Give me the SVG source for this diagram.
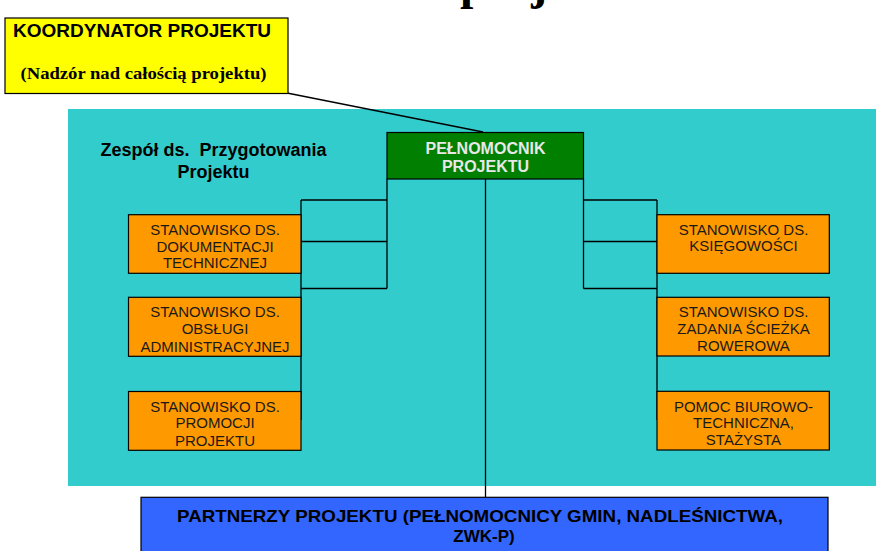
<svg xmlns="http://www.w3.org/2000/svg" width="876" height="551" viewBox="0 0 876 551">
<style>
.box{stroke:#000;stroke-width:1.2}
.orange{fill:#FF9900}
.ot{font-family:"Liberation Sans",Arial,sans-serif;font-size:15px;fill:#1a1a1a;text-anchor:middle}
.conn line{stroke:#000;stroke-width:1.3}
</style>
<rect x="0" y="0" width="876" height="551" fill="#fff"/>
<text x="460" y="-1" font-family="Liberation Serif,serif" font-weight="bold" font-size="48" fill="#000">projektu</text>
<rect id="team-area" x="68" y="109" width="808" height="377" fill="#33CCCC"/>
<text font-family="Liberation Sans,Arial,sans-serif" font-weight="bold" font-size="18" fill="#000" text-anchor="middle" xml:space="preserve"><tspan x="213.5" y="156">Zespół ds.  Przygotowania</tspan><tspan x="213.5" y="177.5">Projektu</tspan></text>
<g class="conn" id="connectors">
<line x1="287" y1="93" x2="483" y2="132"/>
<line x1="485.5" y1="179" x2="485.5" y2="497"/>
<line x1="387" y1="179" x2="387" y2="288.5"/>
<line x1="301" y1="200" x2="387" y2="200"/>
<line x1="301" y1="241.5" x2="387" y2="241.5"/>
<line x1="301" y1="288.5" x2="387" y2="288.5"/>
<line x1="301" y1="200" x2="301" y2="420"/>
<line x1="583.5" y1="179" x2="583.5" y2="288.5"/>
<line x1="583.5" y1="200" x2="657" y2="200"/>
<line x1="583.5" y1="241.5" x2="657" y2="241.5"/>
<line x1="583.5" y1="288.5" x2="657" y2="288.5"/>
<line x1="657" y1="200" x2="657" y2="420"/>
</g>
<g id="koordynator">
<rect class="box" x="5" y="18" width="283" height="75.5" fill="#FFFF00"/>
<text x="142" y="36.5" font-family="Liberation Sans,Arial,sans-serif" font-weight="bold" font-size="19" fill="#000" text-anchor="middle">KOORDYNATOR PROJEKTU</text>
<text x="143.5" y="78.5" font-family="Liberation Serif,serif" font-weight="bold" font-size="16.5" fill="#000" text-anchor="middle" textLength="246" lengthAdjust="spacingAndGlyphs">(Nadzór nad całością projektu)</text>
</g>
<g id="pelnomocnik">
<rect class="box" x="387" y="132.5" width="196.5" height="46.5" fill="#007F00"/>
<text font-family="Liberation Sans,Arial,sans-serif" font-weight="bold" font-size="16" fill="#E8E8E8" text-anchor="middle"><tspan x="485.5" y="153.5">PEŁNOMOCNIK</tspan><tspan x="485.5" y="171.5">PROJEKTU</tspan></text>
</g>
<g id="dokumentacja">
<rect class="box orange" x="128.5" y="214.7" width="172.5" height="58.6"/>
<text class="ot"><tspan x="215" y="235">STANOWISKO DS.</tspan><tspan x="215" y="251.5">DOKUMENTACJI</tspan><tspan x="215" y="268">TECHNICZNEJ</tspan></text>
</g>
<g id="obsluga">
<rect class="box orange" x="128.5" y="297.3" width="172.5" height="59"/>
<text class="ot"><tspan x="215" y="317">STANOWISKO DS.</tspan><tspan x="215" y="334">OBSŁUGI</tspan><tspan x="215" y="351.5">ADMINISTRACYJNEJ</tspan></text>
</g>
<g id="promocja">
<rect class="box orange" x="128.5" y="391.5" width="172.5" height="58.8"/>
<text class="ot"><tspan x="215" y="411.7">STANOWISKO DS.</tspan><tspan x="215" y="428.3">PROMOCJI</tspan><tspan x="215" y="445.5">PROJEKTU</tspan></text>
</g>
<g id="ksiegowosc">
<rect class="box orange" x="657" y="214.7" width="172.3" height="58.6"/>
<text class="ot"><tspan x="743.5" y="235">STANOWISKO DS.</tspan><tspan x="743.5" y="251">KSIĘGOWOŚCI</tspan></text>
</g>
<g id="sciezka">
<rect class="box orange" x="657" y="297.3" width="172.3" height="58.7"/>
<text class="ot"><tspan x="743.5" y="317.3">STANOWISKO DS.</tspan><tspan x="743.5" y="334">ZADANIA ŚCIEŻKA</tspan><tspan x="743.5" y="351">ROWEROWA</tspan></text>
</g>
<g id="pomoc">
<rect class="box orange" x="657" y="391.3" width="172.3" height="58.7"/>
<text class="ot"><tspan x="743.5" y="411.7">POMOC BIUROWO-</tspan><tspan x="743.5" y="428.3">TECHNICZNA,</tspan><tspan x="743.5" y="445">STAŻYSTA</tspan></text>
</g>
<g id="partnerzy">
<rect class="box" x="141" y="497.3" width="687" height="60" fill="#3366FF"/>
<text font-family="Liberation Sans,Arial,sans-serif" font-weight="bold" font-size="17" fill="#000" text-anchor="middle"><tspan x="480" y="522" textLength="606" lengthAdjust="spacingAndGlyphs">PARTNERZY PROJEKTU (PEŁNOMOCNICY GMIN, NADLEŚNICTWA,</tspan><tspan x="484" y="541.5">ZWK-P)</tspan></text>
</g>
</svg>
